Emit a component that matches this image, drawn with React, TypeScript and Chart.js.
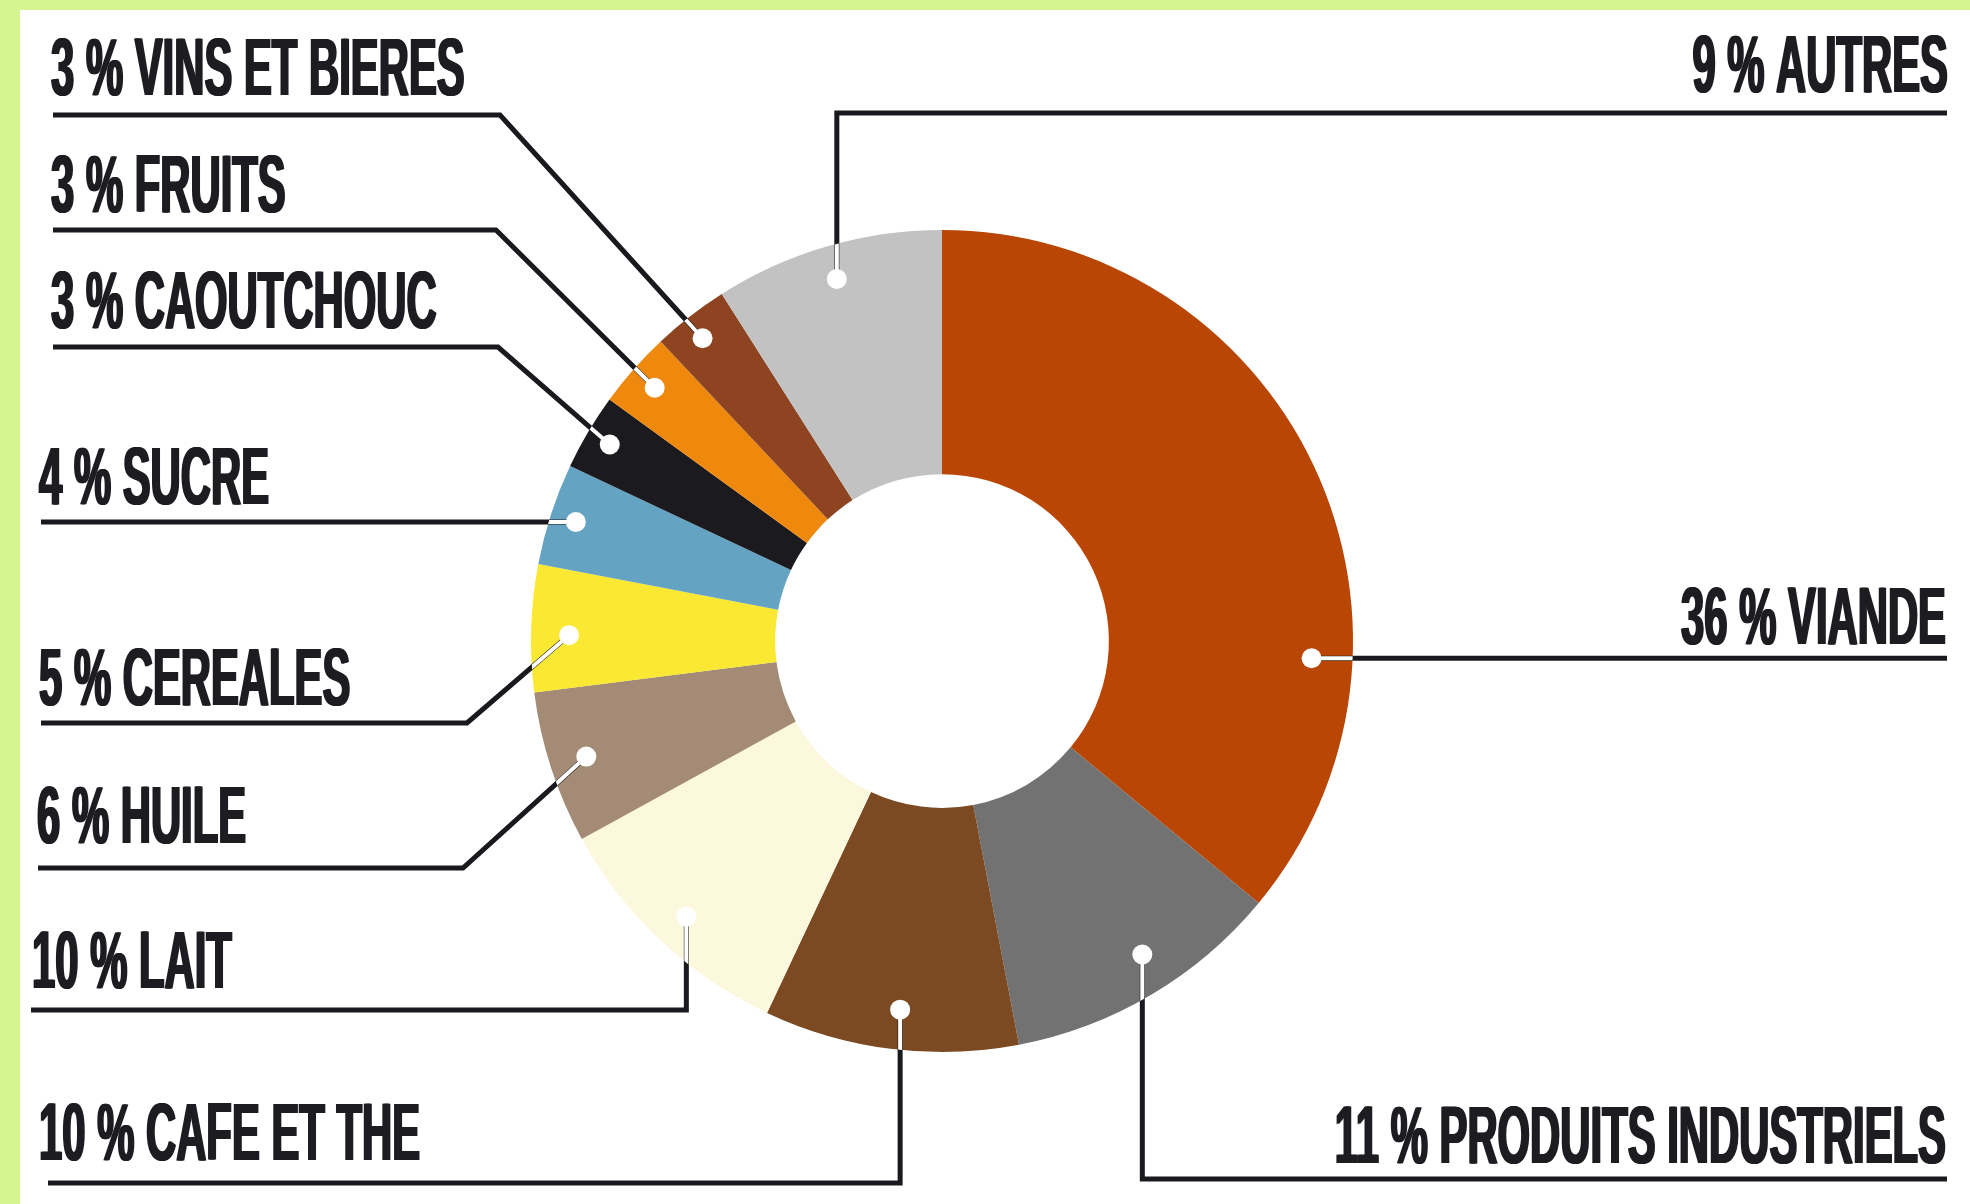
import React, { useEffect, useRef } from 'react';
import { Chart, registerables } from 'chart.js';

Chart.register(...registerables);

// ---- Data ----
const categories = [
  'VIANDE',
  'PRODUITS INDUSTRIELS',
  'CAFE ET THE',
  'LAIT',
  'HUILE',
  'CEREALES',
  'SUCRE',
  'CAOUTCHOUC',
  'FRUITS',
  'VINS ET BIERES',
  'AUTRES',
];
const values = [36, 11, 10, 10, 6, 5, 4, 3, 3, 3, 9];
const sliceColors = [
  '#BA4606',
  '#727272',
  '#7B4A22',
  '#FBF8DE',
  '#A38B76',
  '#FAE832',
  '#65A3C3',
  '#1B1A1F',
  '#EE890D',
  '#8E4421',
  '#C2C2C2',
];

// ---- Layout of labels / leader lines (positions, not data) ----
type LabelLayout = {
  side: 'left' | 'right';
  type: 'h' | 'v' | 'd';
  frac: number; // position of the dot along the arc (0..1)
  inset: number; // distance of the dot from outer edge
  lineY?: number;
  elbowX?: number;
  lineEndX: number;
  textX: number;
  gap: number;
};
const labelLayout: LabelLayout[] = [
  { side: 'right', type: 'h', frac: 0.715, inset: 41, lineEndX: 1947, textX: 1947, gap: 14 },
  { side: 'right', type: 'v', frac: 0.45, inset: 39, lineY: 1179, lineEndX: 1947, textX: 1947, gap: 16 },
  { side: 'left', type: 'v', frac: 0.48, inset: 40, lineY: 1183, lineEndX: 48, textX: 38, gap: 23 },
  { side: 'left', type: 'v', frac: 0.49, inset: 35, lineY: 1010, lineEndX: 31, textX: 31, gap: 22 },
  { side: 'left', type: 'd', frac: 0.5, inset: 37, lineY: 868, elbowX: 463, lineEndX: 38, textX: 36, gap: 25 },
  { side: 'left', type: 'd', frac: 0.45, inset: 38, lineY: 723, elbowX: 467, lineEndX: 41, textX: 38, gap: 18 },
  { side: 'left', type: 'h', frac: 0.5, inset: 26, lineEndX: 41, textX: 38, gap: 18 },
  { side: 'left', type: 'd', frac: 0.5, inset: 25, lineY: 347, elbowX: 498, lineEndX: 53, textX: 50, gap: 19 },
  { side: 'left', type: 'd', frac: 0.5, inset: 28, lineY: 230, elbowX: 496, lineEndX: 53, textX: 50, gap: 18 },
  { side: 'left', type: 'd', frac: 0.45, inset: 25, lineY: 115, elbowX: 500, lineEndX: 53, textX: 50, gap: 20 },
  { side: 'right', type: 'v', frac: 0.5, inset: 34, lineY: 113, lineEndX: 1947, textX: 1949, gap: 21 },
];

const W = 1970;
const H = 1204;
const FONT_SIZE = 82;
const X_SCALE = 0.51;
const INK = '#1c1c21';

export default function App() {
  const ref = useRef<HTMLCanvasElement>(null);

  useEffect(() => {
    const canvas = ref.current;
    if (!canvas) return;

    const leaderPlugin = {
      id: 'leaders',
      afterDatasetsDraw(chart: any) {
        const ctx: CanvasRenderingContext2D = chart.ctx;
        const meta = chart.getDatasetMeta(0);
        meta.data.forEach((arc: any, i: number) => {
          const L = labelLayout[i];
          const p = arc.getProps(['x', 'y', 'startAngle', 'endAngle', 'outerRadius'], true);
          const a = p.startAngle + L.frac * (p.endAngle - p.startAngle);
          const r = p.outerRadius - L.inset;
          const dot = { x: p.x + r * Math.cos(a), y: p.y + r * Math.sin(a) };
          const lineY = L.type === 'h' ? dot.y : (L.lineY as number);
          const pts = [dot];
          if (L.type === 'd') pts.push({ x: L.elbowX as number, y: lineY });
          else if (L.type === 'v') pts.push({ x: dot.x, y: lineY });
          pts.push({ x: L.lineEndX, y: lineY });

          const tracePath = () => {
            ctx.beginPath();
            ctx.moveTo(pts[0].x, pts[0].y);
            for (let k = 1; k < pts.length; k++) ctx.lineTo(pts[k].x, pts[k].y);
          };

          ctx.save();
          ctx.lineJoin = 'miter';
          ctx.lineCap = 'butt';
          ctx.strokeStyle = '#1a1a1e';
          ctx.lineWidth = 5;
          tracePath();
          ctx.stroke();
          // part of the leader inside the ring is white
          ctx.beginPath();
          ctx.arc(p.x, p.y, p.outerRadius, 0, Math.PI * 2);
          ctx.clip();
          ctx.strokeStyle = '#ffffff';
          ctx.lineWidth = 4;
          tracePath();
          ctx.stroke();
          ctx.restore();

          // dot
          ctx.save();
          ctx.fillStyle = '#ffffff';
          ctx.beginPath();
          ctx.arc(dot.x, dot.y, 10, 0, Math.PI * 2);
          ctx.fill();
          ctx.restore();

          // label text
          const text = `${values[i]} % ${categories[i]}`;
          const baseline = lineY - L.gap;
          ctx.save();
          ctx.fillStyle = INK;
          ctx.font = `bold ${FONT_SIZE}px "Liberation Sans", Arial, sans-serif`;
          ctx.textBaseline = 'alphabetic';
          ctx.textAlign = L.side === 'left' ? 'left' : 'right';
          ctx.translate(L.textX, baseline);
          ctx.scale(X_SCALE, 1);
          const offs = L.side === 'left' ? [0, 1, 2] : [-2, -1, 0];
          for (const o of offs) ctx.fillText(text, o / X_SCALE, 0);
          ctx.restore();
        });
      },
    };

    const chart = new Chart(canvas, {
      type: 'doughnut',
      data: {
        labels: categories,
        datasets: [
          {
            data: values,
            backgroundColor: sliceColors,
            borderWidth: 0,
            hoverOffset: 0,
            offset: 0,
          },
        ],
      },
      options: {
        animation: false,
        responsive: false,
        devicePixelRatio: 1,
        cutout: '40.6%',
        rotation: 0,
        layout: { padding: { left: 531, right: 617, top: 230, bottom: 152 } },
        plugins: {
          legend: { display: false },
          tooltip: { enabled: false },
          title: { display: false },
        },
        events: [],
      },
      plugins: [leaderPlugin],
    } as any);

    return () => chart.destroy();
  }, []);

  return (
    <div style={{ position: 'fixed', left: 0, top: 0, width: W, height: H, background: '#D4F590' }}>
      <div style={{ position: 'absolute', left: 20, top: 10, right: 0, bottom: 0, background: '#ffffff' }} />
      <canvas
        ref={ref}
        width={W}
        height={H}
        style={{ position: 'absolute', left: 0, top: 0, width: W, height: H }}
      />
    </div>
  );
}
